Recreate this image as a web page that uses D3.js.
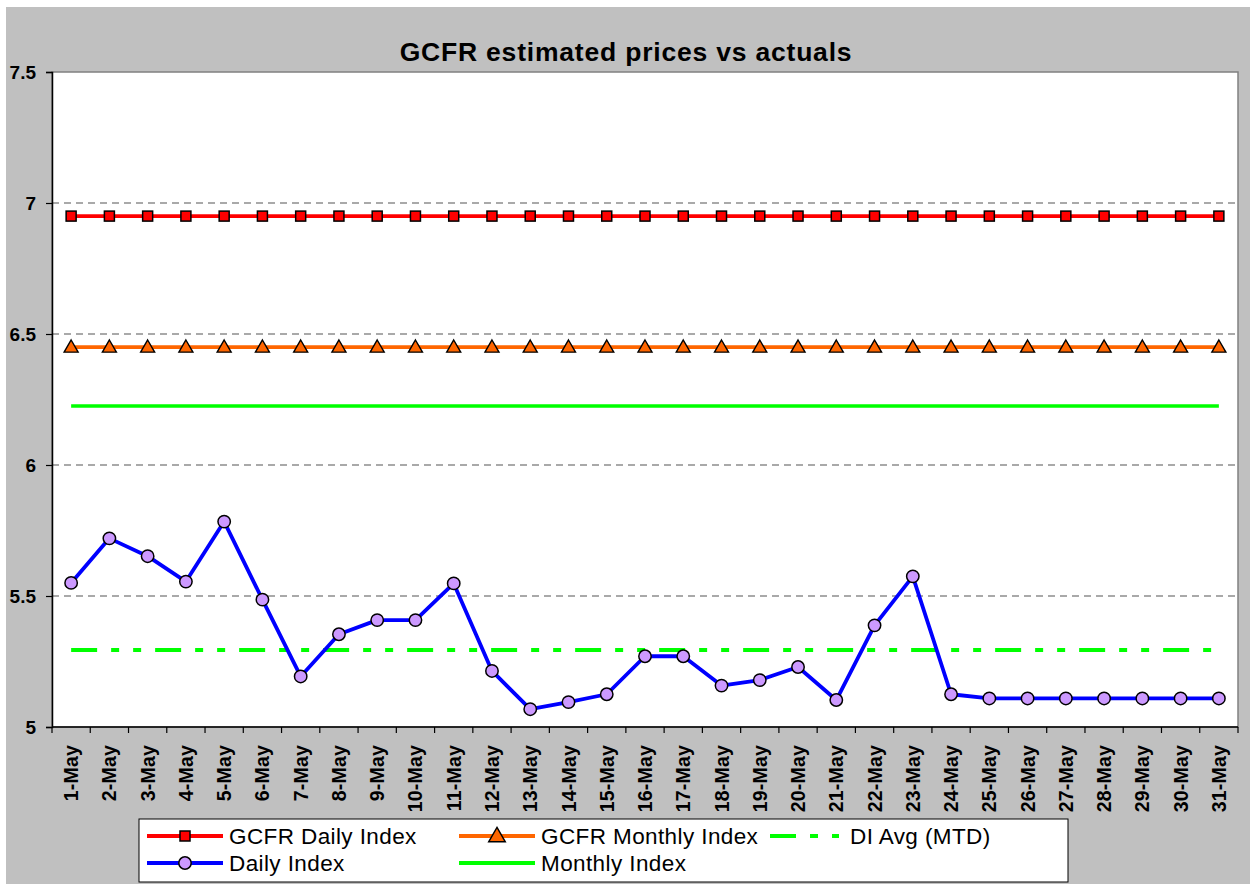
<!DOCTYPE html>
<html>
<head>
<meta charset="utf-8">
<script src="https://cdn.jsdelivr.net/npm/d3@7"></script>
<style>
  body { margin: 0; background: #fff; }
  svg { display: block; font-family: Arial, "Liberation Sans", sans-serif; }
</style>
</head>
<body>
<svg id="chart" width="1250" height="884"></svg>
<script>
// categories
var days = ["1-May", "2-May", "3-May", "4-May", "5-May", "6-May", "7-May", "8-May", "9-May", "10-May",
    "11-May", "12-May", "13-May", "14-May", "15-May", "16-May", "17-May", "18-May", "19-May", "20-May",
    "21-May", "22-May", "23-May", "24-May", "25-May", "26-May", "27-May", "28-May", "29-May", "30-May", "31-May"];

// series values
var gcfrDaily = [6.95, 6.95, 6.95, 6.95, 6.95, 6.95, 6.95, 6.95, 6.95, 6.95, 6.95, 6.95, 6.95, 6.95, 6.95, 6.95,
    6.95, 6.95, 6.95, 6.95, 6.95, 6.95, 6.95, 6.95, 6.95, 6.95, 6.95, 6.95, 6.95, 6.95, 6.95];
var gcfrMonthly = [6.45, 6.45, 6.45, 6.45, 6.45, 6.45, 6.45, 6.45, 6.45, 6.45, 6.45, 6.45, 6.45, 6.45, 6.45, 6.45,
    6.45, 6.45, 6.45, 6.45, 6.45, 6.45, 6.45, 6.45, 6.45, 6.45, 6.45, 6.45, 6.45, 6.45, 6.45];
var monthlyIndex = [6.225, 6.225, 6.225, 6.225, 6.225, 6.225, 6.225, 6.225, 6.225, 6.225, 6.225, 6.225, 6.225, 6.225, 6.225, 6.225,
    6.225, 6.225, 6.225, 6.225, 6.225, 6.225, 6.225, 6.225, 6.225, 6.225, 6.225, 6.225, 6.225, 6.225, 6.225];
var diAvg = [5.294, 5.294, 5.294, 5.294, 5.294, 5.294, 5.294, 5.294, 5.294, 5.294, 5.294, 5.294, 5.294, 5.294, 5.294, 5.294,
    5.294, 5.294, 5.294, 5.294, 5.294, 5.294, 5.294, 5.294, 5.294, 5.294, 5.294, 5.294, 5.294, 5.294, 5.294];
var dailyIndex = [5.55, 5.72, 5.652, 5.555, 5.784, 5.486, 5.193, 5.354, 5.408, 5.408, 5.548, 5.214, 5.068, 5.095, 5.125, 5.27,
    5.27, 5.158, 5.179, 5.229, 5.103, 5.388, 5.575, 5.125, 5.109, 5.109, 5.109, 5.109, 5.109, 5.109, 5.109];

// y tick labels
var yTicks = [5, 5.5, 6, 6.5, 7, 7.5];

var svg = d3.select("#chart");

var plot = { left: 52, top: 72, right: 1238, bottom: 727 };

// grey chart area
svg.append("rect")
    .attr("x", 6).attr("y", 7)
    .attr("width", 1244).attr("height", 877)
    .attr("fill", "#c0c0c0");

var x = d3.scaleBand().domain(days).range([plot.left, plot.right]).padding(0);
var y = d3.scaleLinear().domain([5, 7.5]).range([plot.bottom, plot.top]);
var cx = (d) => x(d) + x.bandwidth() / 2;

// plot area
svg.append("rect")
    .attr("x", plot.left).attr("y", plot.top)
    .attr("width", plot.right - plot.left).attr("height", plot.bottom - plot.top)
    .attr("fill", "#fff")
    .attr("stroke", "#808080")
    .attr("stroke-width", 1.5);

// title
svg.append("text")
    .attr("x", 626).attr("y", 61)
    .attr("text-anchor", "middle")
    .style("font-size", "26.5px")
    .style("font-weight", "bold")
    .style("letter-spacing", "0.8px")
    .text("GCFR estimated prices vs actuals");

// gridlines
svg.append("g").selectAll("line")
    .data(yTicks.filter((v) => v > 5 && v < 7.5))
    .enter().append("line")
    .attr("x1", plot.left).attr("x2", plot.right)
    .attr("y1", (v) => y(v)).attr("y2", (v) => y(v))
    .attr("stroke", "#555")
    .attr("stroke-width", 1.2)
    .attr("stroke-dasharray", "7,5");

// y axis
var yAxis = svg.append("g")
    .attr("transform", "translate(" + plot.left + ",0)")
    .call(d3.axisLeft(y).tickValues(yTicks).tickSize(6).tickPadding(10).tickFormat(d3.format("")));
yAxis.select(".domain").attr("stroke", "#000").attr("stroke-width", 1.5);
yAxis.selectAll(".tick line").attr("stroke", "#000").attr("stroke-width", 1.2);
yAxis.selectAll("text")
    .attr("fill", "#000")
    .style("font-size", "19px")
    .style("font-weight", "bold")
    .style("font-family", "Arial, 'Liberation Sans', sans-serif");

// x axis line + ticks between categories
var xAxis = svg.append("g");
xAxis.append("line")
    .attr("x1", plot.left).attr("x2", plot.right)
    .attr("y1", plot.bottom).attr("y2", plot.bottom)
    .attr("stroke", "#000").attr("stroke-width", 1.5);
xAxis.selectAll(".xtick")
    .data(days.concat(["end"]))
    .enter().append("line")
    .attr("class", "xtick")
    .attr("x1", (d, i) => plot.left + i * x.bandwidth())
    .attr("x2", (d, i) => plot.left + i * x.bandwidth())
    .attr("y1", plot.bottom).attr("y2", plot.bottom + 6)
    .attr("stroke", "#000").attr("stroke-width", 1.2);
xAxis.selectAll(".xlabel")
    .data(days)
    .enter().append("text")
    .attr("class", "xlabel")
    .attr("transform", (d) => "translate(" + cx(d) + "," + (plot.bottom + 18) + ") rotate(-90)")
    .attr("text-anchor", "end")
    .attr("dy", "0.36em")
    .style("font-size", "19.5px")
    .style("font-weight", "bold")
    .style("letter-spacing", "0.2px")
    .text((d) => d);

var line = d3.line()
    .x((v, i) => cx(days[i]))
    .y((v) => y(v));

var DASH_DOT_DOT = "26,14,8,14,8,14";

// Monthly Index (solid green)
svg.append("path")
    .attr("d", line(monthlyIndex))
    .attr("fill", "none").attr("stroke", "#00ff00").attr("stroke-width", 3.5);

// DI Avg (MTD)
svg.append("path")
    .attr("d", line(diAvg))
    .attr("fill", "none").attr("stroke", "#00ff00").attr("stroke-width", 4)
    .attr("stroke-dasharray", DASH_DOT_DOT);

// GCFR Monthly Index
svg.append("path")
    .attr("d", line(gcfrMonthly))
    .attr("fill", "none").attr("stroke", "#ff6600").attr("stroke-width", 3.8);
svg.append("g").selectAll("path")
    .data(gcfrMonthly)
    .enter().append("path")
    .attr("d", d3.symbol(d3.symbolTriangle, 85))
    .attr("transform", (v, i) => "translate(" + cx(days[i]) + "," + (y(v) + 1) + ")")
    .attr("fill", "#ff6600").attr("stroke", "#000").attr("stroke-width", 1.4);

// GCFR Daily Index
svg.append("path")
    .attr("d", line(gcfrDaily))
    .attr("fill", "none").attr("stroke", "#ff0000").attr("stroke-width", 3.8);
svg.append("g").selectAll("rect")
    .data(gcfrDaily)
    .enter().append("rect")
    .attr("x", (v, i) => cx(days[i]) - 5)
    .attr("y", (v) => y(v) - 5)
    .attr("width", 10).attr("height", 10)
    .attr("fill", "#ff0000").attr("stroke", "#000").attr("stroke-width", 1.5);

// Daily Index
svg.append("path")
    .attr("d", line(dailyIndex))
    .attr("fill", "none").attr("stroke", "#0000ff").attr("stroke-width", 3.8)
    .attr("stroke-linejoin", "round");
svg.append("g").selectAll("circle")
    .data(dailyIndex)
    .enter().append("circle")
    .attr("cx", (v, i) => cx(days[i]))
    .attr("cy", (v) => y(v))
    .attr("r", 6.2)
    .attr("fill", "#cc99ff").attr("stroke", "#000").attr("stroke-width", 1.5);

// legend
var legend = svg.append("g");
legend.append("rect")
    .attr("x", 139).attr("y", 819)
    .attr("width", 929).attr("height", 63)
    .attr("fill", "#fff").attr("stroke", "#000").attr("stroke-width", 1);

var legendItems = [
    { name: "GCFR Daily Index", color: "#ff0000", marker: "square", x: 147, y: 836 },
    { name: "GCFR Monthly Index", color: "#ff6600", marker: "triangle", x: 459, y: 836 },
    { name: "DI Avg (MTD)", color: "#00ff00", marker: "dash", x: 770, y: 836 },
    { name: "Daily Index", color: "#0000ff", marker: "circle", x: 147, y: 863 },
    { name: "Monthly Index", color: "#00ff00", marker: "none", x: 459, y: 863 }
];

legendItems.forEach(function(item) {
    var g = legend.append("g").attr("transform", "translate(" + item.x + "," + item.y + ")");
    var len = item.marker == "dash" ? 69 : 76;
    g.append("line")
        .attr("x1", 0).attr("x2", len)
        .attr("stroke", item.color)
        .attr("stroke-width", item.marker == "dash" ? 4 : 3.8)
        .attr("stroke-dasharray", item.marker == "dash" ? DASH_DOT_DOT : null);
    if (item.marker == "square") {
        g.append("rect").attr("x", 33).attr("y", -5).attr("width", 10).attr("height", 10)
            .attr("fill", item.color).attr("stroke", "#000").attr("stroke-width", 1.5);
    } else if (item.marker == "triangle") {
        g.append("path").attr("d", d3.symbol(d3.symbolTriangle, 120))
            .attr("transform", "translate(38,1)")
            .attr("fill", item.color).attr("stroke", "#000").attr("stroke-width", 1.4);
    } else if (item.marker == "circle") {
        g.append("circle").attr("cx", 38).attr("r", 6.2)
            .attr("fill", "#cc99ff").attr("stroke", "#000").attr("stroke-width", 1.5);
    }
    g.append("text")
        .attr("x", len + (item.marker == "dash" ? 11 : 6))
        .attr("dy", "0.36em")
        .style("font-size", "22.5px")
        .style("letter-spacing", "0.4px")
        .attr("fill", "#000")
        .text(item.name);
});
</script>
</body>
</html>
